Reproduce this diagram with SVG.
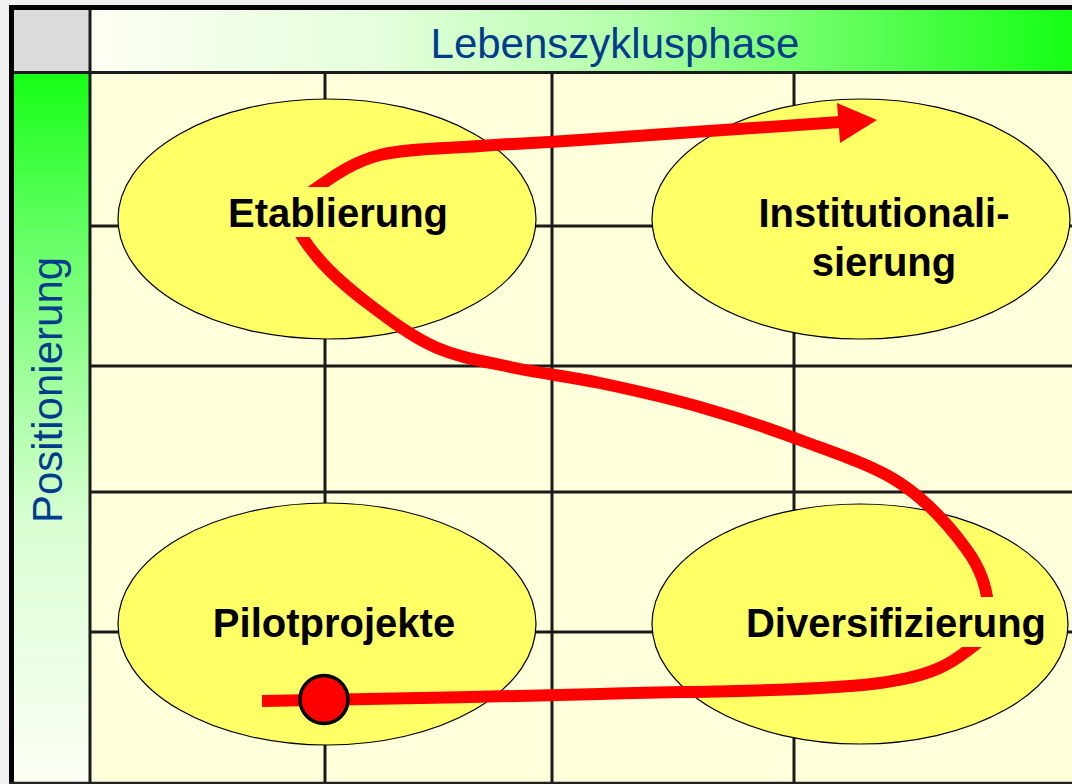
<svg xmlns="http://www.w3.org/2000/svg" width="1072" height="784" viewBox="0 0 1072 784">
  <defs>
    <linearGradient id="hdr" x1="0" y1="0" x2="1" y2="0">
      <stop offset="0" stop-color="#fdfff2"/>
      <stop offset="0.3" stop-color="#e4ffdc"/>
      <stop offset="0.55" stop-color="#b2ffaa"/>
      <stop offset="0.72" stop-color="#76ff6e"/>
      <stop offset="1" stop-color="#14ff14"/>
    </linearGradient>
    <linearGradient id="side" x1="0" y1="0" x2="0" y2="1">
      <stop offset="0" stop-color="#16ff16"/>
      <stop offset="0.235" stop-color="#66ff66"/>
      <stop offset="0.63" stop-color="#d8ffd2"/>
      <stop offset="1" stop-color="#fcfff4"/>
    </linearGradient>
    <style>
      .grid { stroke: #1a1a1a; stroke-width: 3; fill: none; }
      .ell { fill: #ffff66; stroke: #000; stroke-width: 1.2; }
      .lbl { font-family: "Liberation Sans", Arial, sans-serif; font-weight: bold; font-size: 40px; fill: #000; text-anchor: middle; }
      .hd { font-family: "Liberation Sans", Arial, sans-serif; font-size: 42px; fill: #003c8c; text-anchor: middle; }
      .bg { fill: #ffff66; }
    </style>
  </defs>

  <rect x="0" y="0" width="1072" height="784" fill="#f0f0f0"/>

  <g id="frame">
    <rect x="14" y="10" width="76" height="63" fill="#dcdcdc"/>
    <rect x="90" y="10" width="982" height="63" fill="url(#hdr)"/>
    <rect x="14" y="73" width="76" height="709" fill="url(#side)"/>
    <rect x="90" y="73" width="982" height="709" fill="#ffffdc"/>
    <line x1="9" y1="7.5" x2="1072" y2="7.5" stroke="#000" stroke-width="5"/>
    <line x1="11.5" y1="5" x2="11.5" y2="784" stroke="#000" stroke-width="5"/>
    <line x1="9" y1="783" x2="1072" y2="783" stroke="#222" stroke-width="2.5"/>
    <line x1="14" y1="72.5" x2="1072" y2="72.5" stroke="#1a1a1a" stroke-width="3"/>
    <line x1="90" y1="10" x2="90" y2="782" stroke="#1a1a1a" stroke-width="3"/>
  </g>

  <g id="grid">
    <line class="grid" x1="325" y1="73" x2="325" y2="782"/>
    <line class="grid" x1="552" y1="73" x2="552" y2="782"/>
    <line class="grid" x1="794" y1="73" x2="794" y2="782"/>
    <line class="grid" x1="90" y1="226" x2="1072" y2="226"/>
    <line class="grid" x1="90" y1="366" x2="1072" y2="366"/>
    <line class="grid" x1="90" y1="492" x2="1072" y2="492"/>
    <line class="grid" x1="90" y1="632" x2="1072" y2="632"/>
  </g>

  <g id="header">
    <text class="hd" x="615" y="58">Lebenszyklusphase</text>
  </g>
  <g id="axis">
    <text class="hd" transform="translate(62,390) rotate(-90)" x="0" y="0">Positionierung</text>
  </g>

  <g id="etablierung">
    <ellipse class="ell" cx="327" cy="219" rx="209" ry="120"/>
  </g>
  <g id="institutionalisierung">
    <ellipse class="ell" cx="861" cy="219" rx="209" ry="120"/>
    <text class="lbl" x="884" y="227">Institutionali-</text>
    <text class="lbl" x="884" y="276">sierung</text>
  </g>
  <g id="pilotprojekte">
    <ellipse class="ell" cx="327" cy="624" rx="209" ry="121"/>
    <text class="lbl" x="334" y="637">Pilotprojekte</text>
  </g>
  <g id="diversifizierung">
    <ellipse class="ell" cx="860" cy="624" rx="208" ry="120"/>
  </g>

  <g id="connectors">
    <path d="M262,701 C318.3,699.8 497,697 600,694 C703,691 817.5,691.2 880,683 C942.5,674.8 957,658 975,645 C993,632 989.3,620.8 988,605 C986.7,589.2 981.7,570.3 967,550 C952.3,529.7 927.8,501.3 900,483 C872.2,464.7 833.3,452.7 800,440 C766.7,427.3 733.3,416.5 700,407 C666.7,397.5 631.7,389.7 600,383 C568.3,376.3 537.5,373 510,367 C482.5,361 458.3,357.3 435,347 C411.7,336.7 389.5,319.8 370,305 C350.5,290.2 330.7,273 318,258 C305.3,243 294,226.8 294,215 C294,203.5 303.7,197 318,187 C332.3,177 353,161.8 380,155 C407,148.2 446.7,148.5 480,146 C513.3,143.5 520.5,144 580,140 C639.5,136 794.2,125 840,122" fill="none" stroke="#ff0000" stroke-width="12"/>
    <polygon points="837,103 877,120 840,143" fill="#ff0000"/>
    <circle cx="324" cy="699.5" r="24" fill="#ff0000" stroke="#000" stroke-width="3.5"/>
  </g>

  <g id="etablierung-label">
    <rect class="bg" x="222" y="187" width="232" height="50"/>
    <text class="lbl" x="338" y="227">Etablierung</text>
  </g>
  <g id="diversifizierung-label">
    <rect class="bg" x="742" y="597" width="310" height="50"/>
    <text class="lbl" x="896" y="637">Diversifizierung</text>
  </g>
</svg>
